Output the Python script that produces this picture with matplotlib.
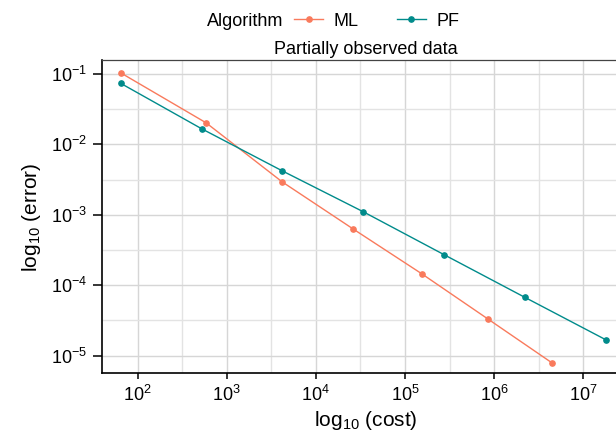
import numpy as np
import matplotlib
matplotlib.use("Agg")
import matplotlib.pyplot as plt
from matplotlib.ticker import FixedLocator, LogFormatterSciNotation, NullFormatter
from matplotlib.lines import Line2D

plt.rcParams['font.family'] = ['Liberation Sans', 'DejaVu Sans']
plt.rcParams['mathtext.default'] = 'regular'

# data
ml_cost = [64.4, 585, 4170, 26300, 153800, 847000, 4.47e6]
ml_error = [0.104, 0.0203, 0.00295, 6.28e-4, 1.46e-4, 3.34e-5, 7.9e-6]
pf_cost = [64.4, 522, 4170, 34000, 276000, 2.22e6, 1.8e7]
pf_error = [0.0738, 0.0167, 0.00423, 1.107e-3, 2.71e-4, 6.73e-5, 1.68e-5]
series_names = ['ML', 'PF']
series_colors = ['#F97A5C', '#008B8B']

W, H = 616, 436
fig = plt.figure(figsize=(W / 100, H / 100), dpi=100)
left, right, top, bottom = 101.7, 629.7, 60.5, 373.3
ax = fig.add_axes([left / W, 1 - bottom / H, (right - left) / W, (bottom - top) / H])

for xs, ys, c in zip([ml_cost, pf_cost], [ml_error, pf_error], series_colors):
    ax.plot(xs, ys, color=c, lw=1.0, marker='o', ms=3.8, mec=c, mfc=c, zorder=3)

ax.set_xscale('log')
ax.set_yscale('log')
ax.set_xlim(10 ** 1.596, 10 ** 7.522)
ax.set_ylim(10 ** -5.25, 10 ** -0.808)

ax.xaxis.set_major_locator(FixedLocator([10.0 ** k for k in range(2, 8)]))
ax.xaxis.set_minor_locator(FixedLocator([10.0 ** (k + 0.5) for k in range(1, 8)]))
ax.yaxis.set_major_locator(FixedLocator([10.0 ** k for k in range(-5, 0)]))
ax.yaxis.set_minor_locator(FixedLocator([10.0 ** (k + 0.5) for k in range(-6, 0)]))
ax.xaxis.set_major_formatter(LogFormatterSciNotation())
ax.yaxis.set_major_formatter(LogFormatterSciNotation())
ax.xaxis.set_minor_formatter(NullFormatter())
ax.yaxis.set_minor_formatter(NullFormatter())

ax.grid(True, which='major', color='#d6d6d6', lw=1.0, zorder=0)
ax.grid(True, which='minor', color='#e3e3e3', lw=1.0, zorder=0)
ax.set_axisbelow(True)
ax.tick_params(axis='x', which='major', length=4, width=1.1, color='black', labelsize=13, pad=4)
ax.tick_params(axis='y', which='major', length=6.5, width=1.1, color='black', labelsize=13, pad=4)
ax.tick_params(which='minor', length=0)
for s in ['left', 'bottom']:
    ax.spines[s].set_color('black')
    ax.spines[s].set_linewidth(1.2)
for s in ['top', 'right']:
    ax.spines[s].set_color('#444444')
    ax.spines[s].set_linewidth(0.9)

ax.set_xlabel('log$_{10}$ (cost)', fontsize=15, labelpad=3)
ax.set_ylabel('log$_{10}$ (error)', fontsize=15, labelpad=6)
ax.set_title('Partially observed data', fontsize=13, pad=5)

fig.text(207 / W, 1 - 22 / H, 'Algorithm', fontsize=13, va='center', ha='left')
handles = [Line2D([], [], color=c, lw=1.0, marker='o', ms=3.8) for c in series_colors]
fig.legend(handles, series_names, ncol=2, loc='center left',
           bbox_to_anchor=(287 / W, 1 - 21 / H), frameon=False, fontsize=13,
           handlelength=1.6, handletextpad=0.6, columnspacing=2.1, borderaxespad=0)

fig.savefig('out.png', dpi=100)
